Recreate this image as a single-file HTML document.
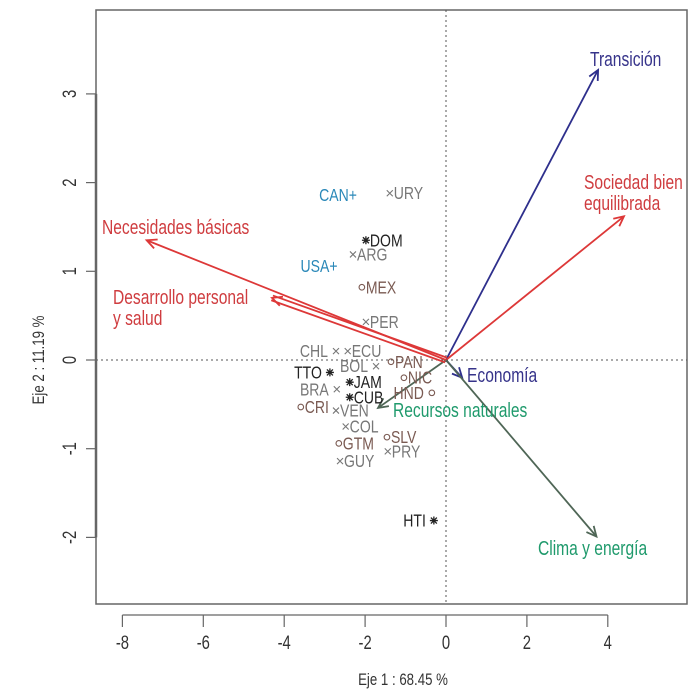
<!DOCTYPE html>
<html><head><meta charset="utf-8"><style>
html,body{margin:0;padding:0;background:#fff;}
svg{display:block;font-family:"Liberation Sans",sans-serif;}
</style></head><body>
<svg id="chart" width="700" height="697" viewBox="0 0 700 697" xmlns="http://www.w3.org/2000/svg">
<rect x="96" y="10" width="591" height="594" fill="none" stroke="#666" stroke-width="1.5"/>
<g id="axes"></g>
<g id="arrows"></g>
<g id="points"></g>
<text transform="translate(403,685) scale(0.78,1)" font-size="17" fill="#333" text-anchor="middle">Eje 1 : 68.45 %</text>
<text transform="translate(44,360) rotate(-90) scale(0.78,1)" font-size="17" fill="#333" text-anchor="middle">Eje 2 : 11.19 %</text>
</svg>
<script>
const xTicks=[-8,-6,-4,-2,0,2,4];
const yTicks=[3,2,1,0,-1,-2];
const names=["URY","DOM","ARG","MEX","PER","CHL","ECU","BOL","PAN","TTO","JAM","NIC","BRA","HND","CUB","CRI","VEN","COL","SLV","GTM","PRY","GUY","HTI"];
const xs=[-1.39,-1.98,-2.30,-2.08,-1.98,-2.72,-2.43,-1.73,-1.36,-2.87,-2.38,-1.04,-2.70,-0.35,-2.38,-3.59,-2.72,-2.48,-1.46,-2.65,-1.44,-2.62,-0.30];
const ys=[1.88,1.35,1.19,0.82,0.43,0.10,0.10,-0.07,-0.02,-0.14,-0.25,-0.20,-0.33,-0.37,-0.42,-0.53,-0.57,-0.75,-0.87,-0.94,-1.03,-1.14,-1.81];
const kinds=["x","*","x","o","x","x","x","x","o","*","*","o","x","o","*","o","x","x","o","o","x","x","*"];
const sides=["r","r","r","r","r","l","r","l","r","l","r","r","l","l","r","r","r","r","r","r","r","r","l"];
const suppNames=["CAN+","USA+"];
const suppX=[-2.67,-3.14];
const suppY=[1.86,1.06];
const varNames=["Transición","Sociedad bien|equilibrada","Economía","Clima y energía","Recursos naturales","Necesidades básicas","Desarrollo personal|y salud"];
const varX=[3.76,4.40,0.40,3.72,-1.68,-7.40,-4.30];
const varY=[3.27,1.62,-0.20,-1.99,-0.54,1.35,0.70];

const NS="http://www.w3.org/2000/svg";
const SC=0.78;
const sx=v=>446+v*40.45;
const sy=v=>360-v*88.7;
function mk(tag,attrs,parent){const e=document.createElementNS(NS,tag);for(const k in attrs)e.setAttribute(k,attrs[k]);parent.appendChild(e);return e;}
function txt(parent,x,y,s,size,fill,anchor,rot){
  const t=mk('text',{transform:`translate(${x},${y})${rot?' rotate(-90)':''} scale(${SC},1)`,'font-size':size,fill:fill,'text-anchor':anchor},parent);
  t.textContent=s;return t;
}
const axes=document.getElementById('axes'),arrows=document.getElementById('arrows'),pts=document.getElementById('points');

let l=mk('line',{x1:96,x2:687,y1:sy(0),y2:sy(0),stroke:'#555','stroke-dasharray':'2,3'},axes);


l=mk('line',{x1:sx(0),x2:sx(0),y1:10,y2:604,stroke:'#555','stroke-dasharray':'2,3'},axes);


l=mk('line',{x1:sx(xTicks[0]),x2:sx(xTicks[xTicks.length-1]),y1:615,y2:615,stroke:'#666','stroke-width':1.2},axes);


xTicks.forEach(t=>{
  const tk=mk('line',{x1:sx(t),x2:sx(t),y1:615,y2:627,stroke:'#666','stroke-width':1.2},axes);
  
  
  const tx=txt(axes,sx(t),649,String(t),19,'#333','middle',false);
  
  
});
l=mk('line',{x1:96,x2:96,y1:sy(yTicks[0]),y2:sy(yTicks[yTicks.length-1]),stroke:'#666','stroke-width':2.5},axes);


yTicks.forEach(t=>{
  const tk=mk('line',{x1:86,x2:96,y1:sy(t),y2:sy(t),stroke:'#666','stroke-width':1.2},axes);
  
  
  const tx=txt(axes,76,sy(t),String(t),19,'#333','middle',true);
  
  
});

const arrowCol=['#2e2f8c','#dd3838','#2e2f8c','#4f6656','#4f6656','#dd3838','#dd3838'];
const labCol=['#36338a','#cf3c3f','#36338a','#1f9a6c','#1f9a6c','#cf3c3f','#cf3c3f'];
const labPos=[[590,66,'start'],[584,189,'start'],[467,382,'start'],[538,555,'start'],[393,417,'start'],[102,234,'start'],[113,304,'start']];
varNames.forEach((n,i)=>{
  const x0=sx(0),y0=sy(0),x1=sx(varX[i]),y1=sy(varY[i]);
  const g=mk('g',{},arrows);
  
  
  const ang=Math.atan2(y1-y0,x1-x0);
  const drawLine=(ox,oy)=>mk('line',{x1:x0+ox,y1:y0+oy,x2:x1+ox,y2:y1+oy,stroke:arrowCol[i],'stroke-width':1.8},g);
  if(i===6){const px=-Math.sin(ang)*2.5,py=Math.cos(ang)*2.5;drawLine(px,py);drawLine(-px,-py);}
  else drawLine(0,0);
  const h=11,a=0.45;
  mk('polyline',{points:`${x1-h*Math.cos(ang-a)},${y1-h*Math.sin(ang-a)} ${x1},${y1} ${x1-h*Math.cos(ang+a)},${y1-h*Math.sin(ang+a)}`,fill:'none',stroke:arrowCol[i],'stroke-width':1.8},g);
  n.split('|').forEach((p,j)=>{
    const t=txt(arrows,labPos[i][0],labPos[i][1]+j*21,p,20,labCol[i],labPos[i][2],false);
    
    
  });
});

names.forEach((n,i)=>{
  const x=sx(xs[i]),y=sy(ys[i]);
  const k=kinds[i];
  const col=k==='*'?'#222':(k==='o'?'#7a5a52':'#777');
  const g=mk('g',{},pts);
  
  
  if(k==='x'){
    mk('path',{d:`M${x-3},${y-3}L${x+3},${y+3}M${x-3},${y+3}L${x+3},${y-3}`,stroke:'#777','stroke-width':1.1},g);
  } else if(k==='o'){
    mk('circle',{cx:x,cy:y,r:2.8,fill:'none',stroke:'#7a5a52','stroke-width':1.1},g);
  } else {
    mk('path',{d:`M${x-4},${y}L${x+4},${y}M${x},${y-4}L${x},${y+4}M${x-3},${y-3}L${x+3},${y+3}M${x-3},${y+3}L${x+3},${y-3}`,stroke:'#222','stroke-width':1.3},g);
  }
  const right=sides[i]==='r';
  txt(g,right?x+4:x-8,y+6,n,18,col,right?'start':'end',false);
});
suppNames.forEach((n,i)=>{
  const t=txt(pts,sx(suppX[i]),sy(suppY[i])+6,n,18,'#2a88b8','middle',false);
  
  
});
</script>
</body></html>
